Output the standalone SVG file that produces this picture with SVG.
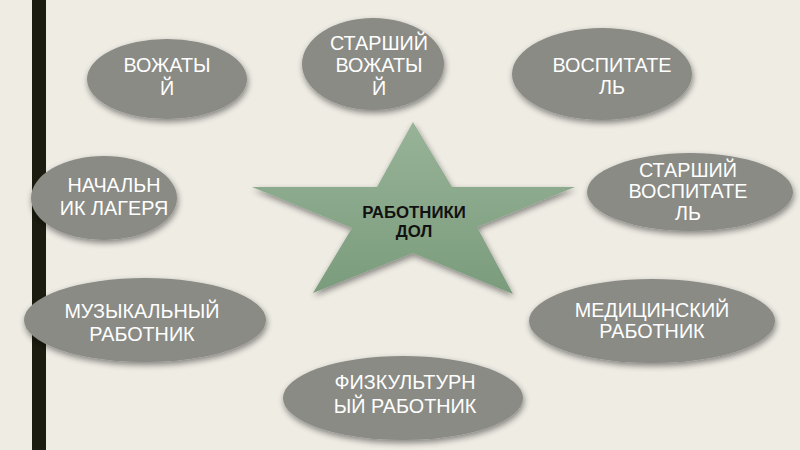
<svg xmlns="http://www.w3.org/2000/svg" width="800" height="450" viewBox="0 0 800 450">
  <defs>
    <filter id="sh" x="-20%" y="-20%" width="140%" height="150%">
      <feGaussianBlur in="SourceAlpha" stdDeviation="3"/>
      <feOffset dx="1" dy="3" result="b"/>
      <feComponentTransfer><feFuncA type="linear" slope="0.45"/></feComponentTransfer>
      <feMerge><feMergeNode/><feMergeNode in="SourceGraphic"/></feMerge>
    </filter>
    <linearGradient id="sg" x1="0" y1="0" x2="0" y2="1">
      <stop offset="0" stop-color="#98b398"/>
      <stop offset="1" stop-color="#7a9c7c"/>
    </linearGradient>
    <style>
      .el { fill: #8a8b85; filter: url(#sh); }
      .t { font-family: "Liberation Sans", Arial, sans-serif; font-size: 19.8px; fill: #ffffff; text-anchor: middle; }
      .st { font-family: "Liberation Sans", Arial, sans-serif; font-size: 16.8px; font-weight: bold; fill: #111111; text-anchor: middle; }
    </style>
  </defs>
  <rect width="800" height="450" fill="#efece4"/>
  <rect x="32" y="0" width="14" height="450" fill="#1c1c10"/>
  <g id="connectors"></g>

  <g id="star">
    <polygon points="413,122 452,187 575,187 477,227 513,294 413,253 313,293 352,228 252,187 377,187" fill="url(#sg)" filter="url(#sh)"/>
    <text class="st" x="414" y="218">РАБОТНИКИ</text>
    <text class="st" x="414" y="237">ДОЛ</text>
  </g>

  <g id="vozhatyi">
    <ellipse class="el" cx="167" cy="79" rx="80" ry="40"/>
    <text class="t" x="167" y="72">ВОЖАТЫ</text>
    <text class="t" x="167" y="95">Й</text>
  </g>

  <g id="starshii-vozhatyi">
    <ellipse class="el" cx="373" cy="64" rx="71" ry="46"/>
    <text class="t" x="379" y="50">СТАРШИЙ</text>
    <text class="t" x="379" y="72">ВОЖАТЫ</text>
    <text class="t" x="379" y="95">Й</text>
  </g>

  <g id="vospitatel">
    <ellipse class="el" cx="602" cy="74" rx="90" ry="46"/>
    <text class="t" x="612" y="72">ВОСПИТАТЕ</text>
    <text class="t" x="612" y="94">ЛЬ</text>
  </g>

  <g id="nachalnik">
    <ellipse class="el" cx="104" cy="198" rx="73" ry="42"/>
    <text class="t" x="114" y="192">НАЧАЛЬН</text>
    <text class="t" x="114" y="215">ИК ЛАГЕРЯ</text>
  </g>

  <g id="starshii-vospitatel">
    <ellipse class="el" cx="690" cy="192" rx="103" ry="39"/>
    <text class="t" x="688" y="177">СТАРШИЙ</text>
    <text class="t" x="688" y="198">ВОСПИТАТЕ</text>
    <text class="t" x="688" y="220">ЛЬ</text>
  </g>

  <g id="muzykalnyi">
    <ellipse class="el" cx="145" cy="320" rx="121" ry="42"/>
    <text class="t" x="142" y="318">МУЗЫКАЛЬНЫЙ</text>
    <text class="t" x="142" y="341">РАБОТНИК</text>
  </g>

  <g id="medicinskii">
    <ellipse class="el" cx="652" cy="321" rx="123" ry="42"/>
    <text class="t" x="652" y="317">МЕДИЦИНСКИЙ</text>
    <text class="t" x="652" y="338">РАБОТНИК</text>
  </g>

  <g id="fizkulturnyi">
    <ellipse class="el" cx="403" cy="398" rx="120" ry="42"/>
    <text class="t" x="405" y="389">ФИЗКУЛЬТУРН</text>
    <text class="t" x="405" y="413">ЫЙ РАБОТНИК</text>
  </g>
</svg>
